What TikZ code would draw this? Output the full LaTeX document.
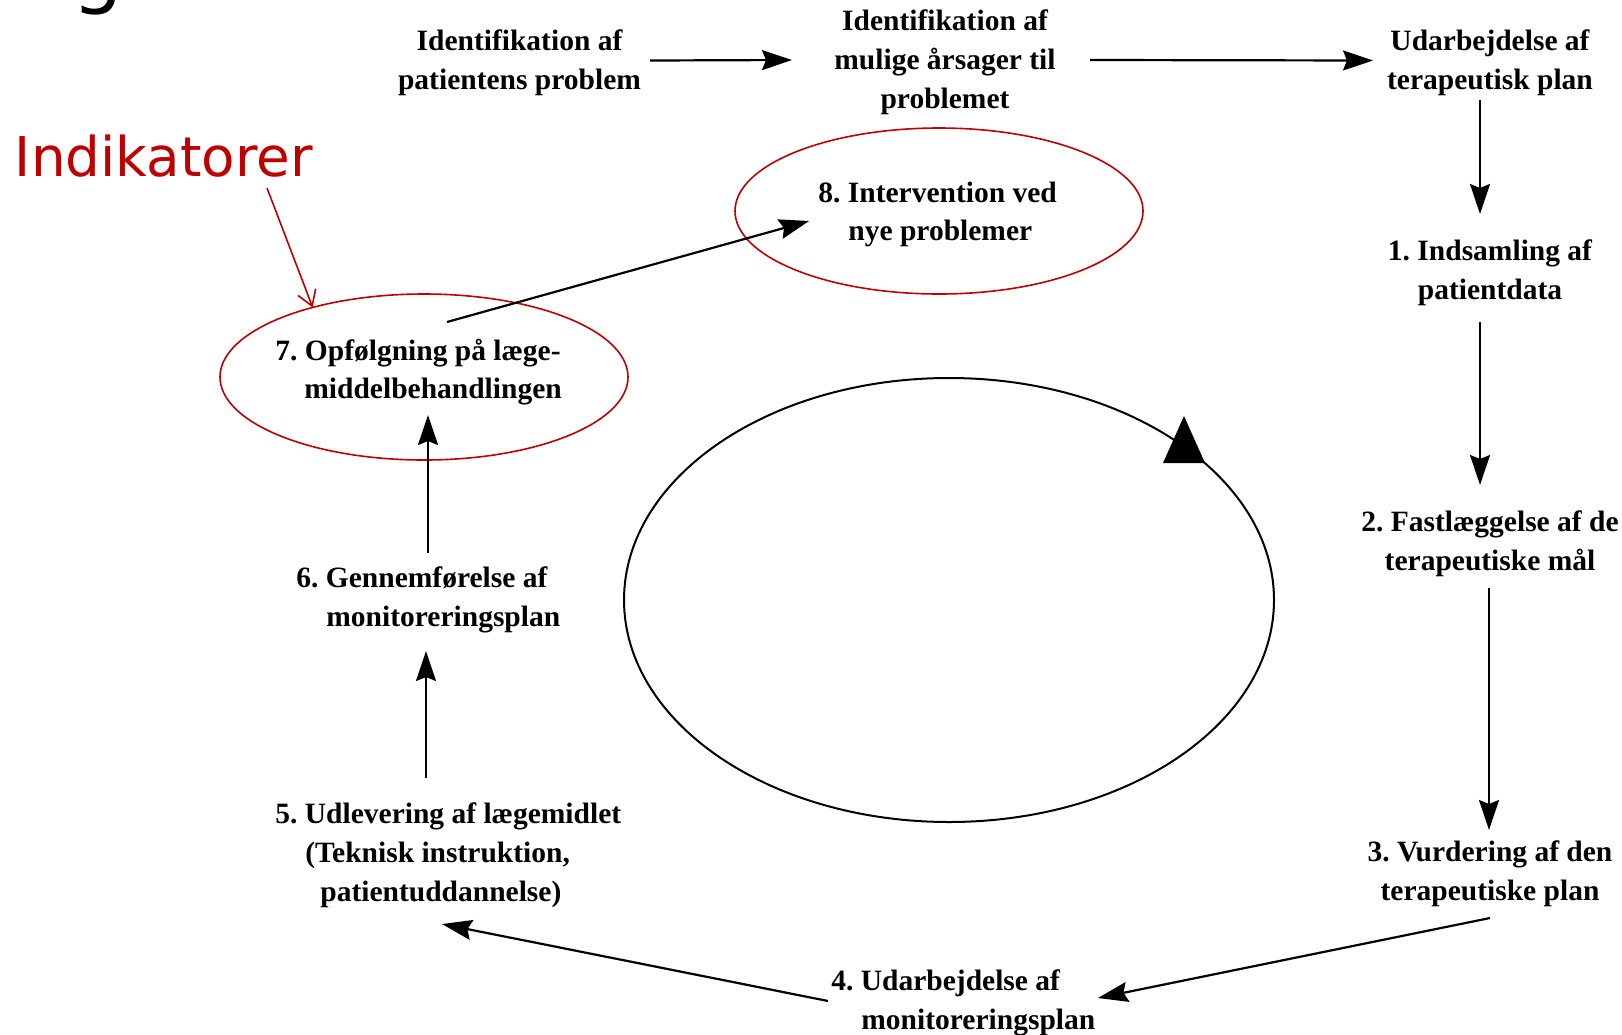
\documentclass[tikz,border=0pt]{standalone}
\usepackage{fontspec}
\setmainfont{Liberation Serif}
\newfontfamily\indfont{DejaVu Sans}
\usetikzlibrary{arrows.meta,shapes.geometric}
\definecolor{indred}{RGB}{192,0,0}
\frenchspacing
\tikzset{>={Stealth[length=15pt,width=10pt,inset=2pt]}}
\tikzset{
  trin/.style={font=\bfseries\fontsize{14.75}{19.4}\selectfont, inner sep=0pt, align=center},
  trinv/.style={trin, align=left, anchor=west},
  pil/.style={->, line width=1.1pt},
  indell/.style={draw=indred, line width=0.8pt, ellipse, minimum width=204pt, minimum height=83pt, inner sep=0pt, outer sep=0pt},
}

\begin{document}
\begin{tikzpicture}[x=0.5pt, y=-0.5pt]
    \useasboundingbox (0,0) rectangle (1622,1034);
    \node[font=\indfont\fontsize{40}{44}\selectfont, inner sep=0pt, anchor=base west] (titelrest) at (72,-2) {g};

    \node[trin] (identprob) at (519.5,63) {Identifikation af\\patientens problem};
    \node[trin] (aarsager) at (945,62.5) {Identifikation af\\mulige årsager til\\problemet};
    \node[trin] (terapiplan) at (1490,63) {Udarbejdelse af\\terapeutisk plan};
    \node[trin] (indsamling) at (1490,273) {1. Indsamling af\\patientdata};
    \node[trin] (maal) at (1490,544) {2. Fastlæggelse af de\\terapeutiske mål};
    \node[trin] (vurdering) at (1490,874) {3. Vurdering af den\\terapeutiske plan};
    \node[trinv] (monitorplan) at (831,1002.5) {4. Udarbejdelse af\\\hspace*{15pt}monitoreringsplan};
    \node[trinv] (udlevering) at (275,855.5) {5. Udlevering af lægemidlet\\\hspace*{15pt}(Teknisk instruktion,\\\hspace*{22.5pt}patientuddannelse)};
    \node[trinv] (gennemfoer) at (296,599.5) {6. Gennemførelse af\\\hspace*{15pt}monitoreringsplan};
    \node[indell] (opfoelgell) at (424,377) {};
    \node[trinv] (opfoelg) at (275,372) {7. Opfølgning på læge-\\\hspace*{14.5pt}middelbehandlingen};
    \node[indell] (interventionell) at (939,211) {};
    \node[trinv] (intervention) at (818,214.5) {8. Intervention ved\\\hspace*{15pt}nye problemer};

    \node[font=\indfont\fontsize{27.4}{32}\selectfont, text=indred, inner sep=0pt, anchor=base west] (indikatorer) at (14.5,176) {Indikatorer};
    \draw[indred, line width=0.8pt, -{Straight Barb[length=7.5pt,width=9.5pt]}] ([shift={(252.5,12)}]indikatorer.base west) -- (opfoelgell.148);

    \draw[line width=1pt] (949,600) ellipse [x radius=162.5pt, y radius=111pt];
    \fill (1184,416) -- (1205,463) -- (1163,463) -- cycle;

    \draw[pil] ([shift={(130.5,-2.5)}]identprob.center) -- ([shift={(-153,-2.5)}]aarsager.center);
    \draw[pil] ([shift={(145,-2.5)}]aarsager.center) -- ([shift={(-117,-2.5)}]terapiplan.center);
    \draw[pil] ([shift={(-10,37)}]terapiplan.center) -- ([shift={(-10,-59)}]indsamling.center);
    \draw[pil] ([shift={(-10,49)}]indsamling.center) -- ([shift={(-10,-59)}]maal.center);
    \draw[pil] ([shift={(-1,44)}]maal.center) -- ([shift={(-1,-44)}]vurdering.center);
    \draw[pil] ([shift={(0,44)}]vurdering.center) -- ([shift={(267,-4.5)}]monitorplan.west);
    \draw[pil] ([shift={(-3,-1.5)}]monitorplan.west) -- ([shift={(167,68.5)}]udlevering.west);
    \draw[pil] ([shift={(151,-77.5)}]udlevering.west) -- ([shift={(130,51.5)}]gennemfoer.west);
    \draw[pil] ([shift={(132,-46.5)}]gennemfoer.west) -- ([shift={(153,43)}]opfoelg.west);
    \draw[pil] ([shift={(172,-50)}]opfoelg.west) -- ([shift={(-9,6.5)}]intervention.west);
\end{tikzpicture}
\end{document}
